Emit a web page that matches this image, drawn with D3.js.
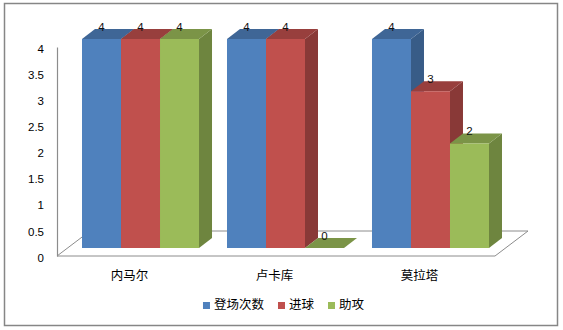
<!DOCTYPE html>
<html>
<head>
<meta charset="utf-8">
<script src="https://cdn.jsdelivr.net/npm/d3@7"></script>
<style>
  body { margin: 0; background: #fff; }
  svg { display: block; }
</style>
</head>
<body>
<svg id="chart" width="563" height="330"></svg>
<script>
'use strict';

// chart data
var categories = ['内马尔', '卢卡库', '莫拉塔'];
var seriesNames = ['登场次数', '进球', '助攻'];
var seriesColors = ['#4F81BD', '#C0504D', '#9BBB59'];
var appearances = [4, 4, 4];
var goals = [4, 4, 3];
var assists = [4, 0, 2];
var yTicks = [0, 0.5, 1, 1.5, 2, 2.5, 3, 3.5, 4];

var seriesValues = [appearances, goals, assists];

var svg = d3.select('#chart');
var font = '"Liberation Sans", Arial, sans-serif';
var cjk = '"Noto Sans CJK SC", sans-serif';

// outer border
svg.append('rect')
  .attr('x', 4.5).attr('y', 3.5)
  .attr('width', 553).attr('height', 322)
  .attr('fill', '#fff')
  .attr('stroke', '#868686').attr('stroke-width', 1.5);

// depth offsets (oblique 3d look)
var floorDx = 33, floorDy = -25;
var barDx = 13, barDy = -10;

// scales
var yAxisScale = d3.scaleLinear().domain([0, 4]).range([256, 47]);
var yBar = d3.scaleLinear().domain([0, 4]).range([248, 39]);

var x0 = d3.scaleBand().domain(categories)
  .range([68, 503]).paddingInner(0.193).paddingOuter(0.0966);
var x1 = d3.scaleBand().domain(seriesNames).range([0, x0.bandwidth()]);

// floor
var fl = 57, fr = 495, fy = yAxisScale(0);
svg.append('path')
  .attr('d', 'M' + fl + ',' + fy + 'L' + fr + ',' + fy +
    'L' + (fr + floorDx) + ',' + (fy + floorDy) +
    'L' + (fl + floorDx) + ',' + (fy + floorDy) + 'Z')
  .attr('fill', '#fff')
  .attr('stroke', '#8c8c8c').attr('stroke-width', 1);

// y axis
var yAxis = d3.axisLeft(yAxisScale)
  .tickValues(yTicks)
  .tickSize(0)
  .tickPadding(13)
  .tickFormat(function(d) { return String(d); });

var gy = svg.append('g')
  .attr('transform', 'translate(' + fl + ',0)')
  .call(yAxis);
gy.select('.domain').attr('stroke', '#8c8c8c').attr('stroke-width', 1.2);
gy.selectAll('text')
  .attr('font-family', font).attr('font-size', 11.5)
  .attr('fill', '#000').attr('dy', '0.45em');

// bars
var bars = [];
categories.forEach(function(cat, ci) {
  seriesNames.forEach(function(s, si) {
    bars.push({ cat: cat, series: s, si: si, value: seriesValues[si][ci] });
  });
});

var gBars = svg.append('g');
bars.forEach(function(d) {
  var xl = x0(d.cat) + x1(d.series);
  var w = x1.bandwidth();
  var yt = yBar(d.value);
  var yb = yBar(0);
  var c = d3.color(seriesColors[d.si]);
  var g = gBars.append('g');

  // side face
  g.append('path')
    .attr('d', 'M' + (xl + w) + ',' + yb + 'L' + (xl + w + barDx) + ',' + (yb + barDy) +
      'L' + (xl + w + barDx) + ',' + (yt + barDy) + 'L' + (xl + w) + ',' + yt + 'Z')
    .attr('fill', c.darker(0.95));
  // top face
  g.append('path')
    .attr('d', 'M' + xl + ',' + yt + 'L' + (xl + w) + ',' + yt +
      'L' + (xl + w + barDx) + ',' + (yt + barDy) + 'L' + (xl + barDx) + ',' + (yt + barDy) + 'Z')
    .attr('fill', c.darker(0.65));
  // front face
  if (d.value > 0) {
    g.append('rect')
      .attr('x', xl).attr('y', yt)
      .attr('width', w).attr('height', yb - yt)
      .attr('fill', c);
  }
});

// value labels
svg.append('g').selectAll('text')
  .data(bars)
  .join('text')
  .attr('x', function(d) { return x0(d.cat) + x1(d.series) + x1.bandwidth() / 2; })
  .attr('y', function(d) { return yBar(d.value) - 8.5; })
  .attr('text-anchor', 'middle')
  .attr('font-family', font).attr('font-size', 11.5)
  .attr('fill', '#111')
  .text(function(d) { return d.value; });

// category labels
svg.append('g').selectAll('text')
  .data(categories)
  .join('text')
  .attr('x', function(d) { return x0(d) + x0.bandwidth() / 2 - 11; })
  .attr('y', 280)
  .attr('text-anchor', 'middle')
  .attr('font-family', cjk).attr('font-size', 12.5)
  .attr('fill', '#000')
  .text(function(d) { return d; });

// legend
var legend = svg.append('g');
var lx = 0;
seriesNames.forEach(function(s, i) {
  var item = legend.append('g').attr('transform', 'translate(' + lx + ',0)');
  item.append('rect')
    .attr('x', 0).attr('y', 302)
    .attr('width', 7).attr('height', 7)
    .attr('fill', seriesColors[i]);
  var t = item.append('text')
    .attr('x', 11).attr('y', 309)
    .attr('font-family', cjk).attr('font-size', 12.5)
    .attr('fill', '#000')
    .text(s);
  lx += 11 + t.node().getComputedTextLength() + 14;
});
var legendWidth = lx - 14;
legend.attr('transform', 'translate(' + (283.5 - legendWidth / 2) + ',0)');
</script>
</body>
</html>
